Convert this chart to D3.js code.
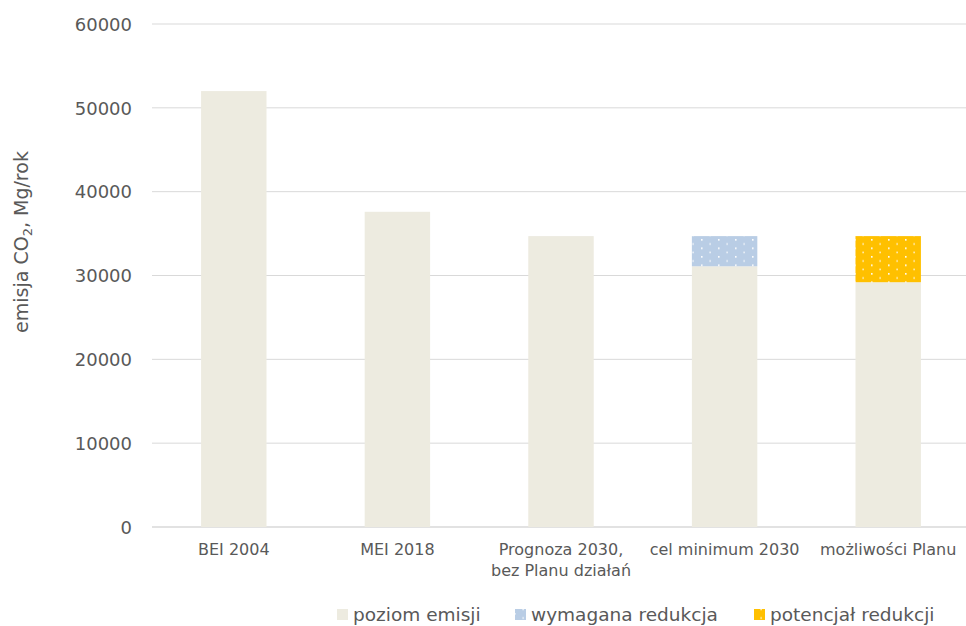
<!DOCTYPE html>
<html><head><meta charset="utf-8">
<script src="https://cdn.jsdelivr.net/npm/d3@7"></script>
<style>body{margin:0;background:#fff}svg{display:block}</style>
</head><body><svg id="c" width="966" height="626"></svg>
<script>
const categories = ["BEI 2004", "MEI 2018", "Prognoza 2030,\nbez Planu działań", "cel minimum 2030", "możliwości Planu"];
const poziomEmisji = [52000, 37600, 34700, 31100, 29200];
const wymaganaRedukcja = [0, 0, 0, 3600, 0];
const potencjalRedukcji = [0, 0, 0, 0, 5500];
const yTicks = [0, 10000, 20000, 30000, 40000, 50000, 60000];
const seriesNames = ["poziom emisji", "wymagana redukcja", "potencjał redukcji"];

const svg = d3.select("#c");
const font = "'DejaVu Sans', Verdana, sans-serif";
const txt = "#595959";
const m = {l:152, t:24, b:99};
const W = 966, H = 626;
const x = d3.scaleBand().domain(categories).range([m.l, 970]).paddingInner(0.6).paddingOuter(0.3);
const y = d3.scaleLinear().domain([0, 60000]).range([H - m.b, m.t]);

const defs = svg.append("defs");
function pat(id, color){
  const p = defs.append("pattern").attr("id", id).attr("patternUnits","userSpaceOnUse")
    .attr("width", 17).attr("height", 8.5);
  p.append("rect").attr("width",17).attr("height",8.5).attr("fill",color);
  p.append("rect").attr("x",4).attr("y",1).attr("width",1.6).attr("height",1.6).attr("fill","#fff");
  p.append("rect").attr("x",12.5).attr("y",5.2).attr("width",1.2).attr("height",1.6).attr("fill","#fff");
}
pat("pBlue", "#B9CDE5");
pat("pOrange", "#FFC000");
const fills = ["#EDEBE0", "url(#pBlue)", "url(#pOrange)"];
const legendFills = ["#EDEBE0", "url(#pBlue)", "url(#pOrange)"];

svg.append("g").selectAll("line").data(yTicks).join("line")
  .attr("x1", m.l).attr("x2", W).attr("y1", d=>y(d)).attr("y2", d=>y(d))
  .attr("stroke", "#D9D9D9").attr("stroke-width", d => d===0 ? 1.5 : 1);

const yAxis = d3.axisLeft(y).tickValues(yTicks).tickSize(0).tickPadding(0).tickFormat(d3.format("d"));
const ga = svg.append("g").attr("transform", `translate(132,0)`).call(yAxis);
ga.select(".domain").remove();
ga.selectAll("text").attr("font-family", font).attr("font-size", 18).attr("fill", txt).attr("dy","0.35em");

const stackData = categories.map((c,i)=>({c, a:poziomEmisji[i], b:wymaganaRedukcja[i], p:potencjalRedukcji[i]}));
const stack = d3.stack().keys(["a","b","p"])(stackData);
stack.forEach((s, si) => {
  svg.append("g").selectAll("rect").data(s.filter(d=>d[1]>d[0])).join("rect")
    .attr("x", d=>x(d.data.c)).attr("width", x.bandwidth())
    .attr("y", d=>y(d[1])).attr("height", d=>y(d[0])-y(d[1]))
    .attr("fill", fills[si]);
});

const gx = svg.append("g");
categories.forEach(c => {
  const lines = c.split("\n");
  const cx = x(c)+x.bandwidth()/2;
  const t = gx.append("text").attr("x", cx).attr("y", 555)
    .attr("text-anchor","middle").attr("font-family", font).attr("font-size", 16).attr("fill", txt);
  lines.forEach((l,i)=> t.append("tspan").attr("x", cx).attr("dy", i===0?0:21).text(l));
});

const yt = svg.append("text").attr("transform", "translate(28,242) rotate(-90)")
  .attr("text-anchor","middle").attr("font-family", font).attr("font-size", 19).attr("fill", txt);
yt.append("tspan").text("emisja CO");
yt.append("tspan").attr("font-size", 13).attr("dy", 4).text("2");
yt.append("tspan").attr("dy", -4).text(", Mg/rok");

const legX = [337, 515, 754];
seriesNames.forEach((n,i)=>{
  svg.append("rect").attr("x", legX[i]).attr("y", 609).attr("width", 11).attr("height", 11).attr("fill", legendFills[i]);
  svg.append("text").attr("x", legX[i]+16).attr("y", 621).attr("font-family", font).attr("font-size", 18.5).attr("fill", txt).text(n);
});
</script></body></html>
